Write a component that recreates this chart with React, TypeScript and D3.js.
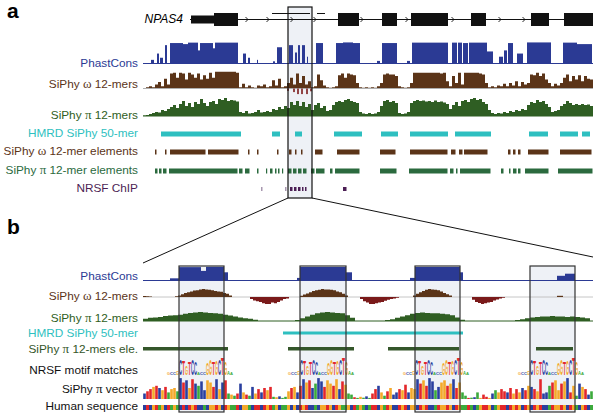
import React from "react";
import * as d3 from "d3";

// ================= DATA =================
// Panel a: NPAS4 locus, positions in units of 100 bp (0-450)
const exonsA: [number, number, string][] = [
  [48, 71, "utr"], [71, 95, "cds"], [195, 216, "cds"], [239, 254, "cds"],
  [268, 305, "cds"], [328, 343, "cds"], [388, 406, "cds"], [421, 450, "cds"],
];
const geneSpanA: [number, number] = [47, 450];
const chevronsA = [104, 125, 149, 172, 219, 264, 310, 357, 381];
const altTranscriptA: [number, number][] = [[129, 167], [174, 182]];

// PhastCons (segments: start, end, score 0-1)
const phastConsA: [number, number, number][] = [
  [8, 11, 0.15], [14, 16, 0.45], [17, 20, 0.25], [22, 24, 0.85],
  [27, 40, 0.95], [40, 45, 0.9], [45, 55, 0.97], [55, 57, 0.6], [57, 70, 0.95], [70, 72, 0.7], [72, 95, 0.97],
  [100, 103, 0.45], [105, 107, 0.25], [114, 115, 0.15], [130, 132, 0.08], [134, 139, 0.75],
  [146, 150, 0.85], [152, 154, 0.5], [155, 157, 0.85], [159, 162, 0.85], [164, 165, 0.3],
  [173, 180, 0.95], [193, 200, 0.95], [200, 210, 0.98], [210, 217, 0.95], [234, 237, 0.1],
  [239, 254, 0.95], [264, 267, 0.1], [269, 305, 0.97], [309, 314, 0.97], [315, 319, 0.97],
  [320, 325, 0.95], [326, 344, 0.97], [344, 350, 0.55], [356, 360, 0.3], [361, 364, 0.6],
  [365, 370, 0.95], [374, 380, 0.45], [384, 408, 0.98], [420, 434, 0.97], [434, 449, 0.9],
];

// SiPhy omega 12-mers, 3-unit bins from 0
const omegaA = [
  0, 0.05, 0.1, 0.05, 0.2, 0.35, 0.1, 0.55, 0.2, 0.85,
  0.9, 0.6, 0.9, 0.85, 0.5, 0.9, 0.8, 0.6, 0.85, 0.5,
  0.75, 0.55, 0.9, 0.6, 0.95, 0.95, 0.95, 0.95, 0.95, 0.95,
  0.95, 0.9, 0.05, 0.25, 0.05, 0.15, 0.05, 0.02, 0.15, 0.1,
  0.2, 0.05, 0.1, 0.45, 0.15, 0.55, 0.05, 0.1, 0.3, 0.6,
  0.2, 0.85, 0.3, 0.7, 0.2, 0.4, 0.05, 0.1, 0.8, 0.45,
  0.15, 0.05, 0.02, 0.05, 0.1, 0.75, 0.85, 0.6, 0.85, 0.8,
  0.75, 0.3, 0.05, 0.02, 0.05, 0.02, 0.05, 0.02, 0.1, 0.3,
  0.8, 0.85, 0.8, 0.8, 0.7, 0.1, 0.05, 0.02, 0.05, 0.3,
  0.9, 0.9, 0.9, 0.9, 0.9, 0.9, 0.9, 0.9, 0.9, 0.85,
  0.9, 0.4, 0.1, 0.7, 0.3, 0.9, 0.2, 0.9, 0.9, 0.9,
  0.9, 0.9, 0.85, 0.8, 0.3, 0.05, 0.1, 0.05, 0.15, 0.1,
  0.25, 0.1, 0.3, 0.15, 0.4, 0.1, 0.35, 0.2, 0.3, 0.8,
  0.75, 0.9, 0.7, 0.85, 0.5, 0.3, 0.1, 0.25, 0.15, 0.3,
  0.6, 0.8, 0.4, 0.7, 0.5, 0.75, 0.4, 0.7, 0.55, 0.5,
];
// negative omega scores (position, depth 0-1)
const omegaNegA: [number, number][] = [[145, 0.3], [151, 0.45], [155, 0.7], [159, 0.7], [164, 0.7], [168, 0.35]];

// SiPhy pi 12-mers, 3-unit bins from 0
const piA = [
  0.02, 0.05, 0.1, 0.15, 0.2, 0.18, 0.3, 0.25, 0.35, 0.45,
  0.55, 0.4, 0.6, 0.75, 0.5, 0.65, 0.45, 0.7, 0.6, 0.85,
  0.65, 0.5, 0.7, 0.75, 0.6, 0.85, 0.8, 0.9, 0.75, 0.8,
  0.78, 0.72, 0.2, 0.15, 0.25, 0.12, 0.15, 0.2, 0.3, 0.18,
  0.2, 0.25, 0.2, 0.35, 0.3, 0.45, 0.35, 0.5, 0.4, 0.7,
  0.55, 0.75, 0.5, 0.7, 0.45, 0.6, 0.3, 0.55, 0.65, 0.4,
  0.5, 0.25, 0.3, 0.55, 0.7, 0.75, 0.7, 0.8, 0.85, 0.75,
  0.7, 0.65, 0.2, 0.12, 0.1, 0.15, 0.1, 0.12, 0.2, 0.5,
  0.75, 0.8, 0.7, 0.75, 0.65, 0.15, 0.1, 0.12, 0.2, 0.65,
  0.75, 0.8, 0.75, 0.78, 0.72, 0.75, 0.7, 0.78, 0.7, 0.72,
  0.68, 0.6, 0.35, 0.55, 0.7, 0.5, 0.75, 0.8, 0.7, 0.85,
  0.9, 0.8, 0.85, 0.7, 0.6, 0.3, 0.15, 0.1, 0.15, 0.12,
  0.2, 0.15, 0.25, 0.2, 0.3, 0.25, 0.35, 0.3, 0.55, 0.7,
  0.65, 0.8, 0.7, 0.75, 0.6, 0.45, 0.2, 0.25, 0.3, 0.5,
  0.6, 0.75, 0.65, 0.55, 0.6, 0.55, 0.6, 0.55, 0.58, 0.5,
];

const hmrdA: [number, number][] = [[18, 98], [129, 137], [152, 159], [191, 219], [238, 255], [267, 305], [312, 348], [386, 405], [417, 435], [439, 447]];
const omegaElA: [number, number][] = [
  [12, 14], [22, 24], [27, 63], [65, 96], [105, 107], [114, 116], [134, 136], [146, 149], [152, 154], [158, 160],
  [172, 180], [194, 217], [237, 253], [267, 305], [308, 313], [316, 320], [321, 345], [365, 368], [370, 373], [375, 378],
  [385, 406], [417, 449],
];
const piElA: [number, number][] = [
  [12, 15], [16, 19], [20, 24], [26, 95], [96, 100], [102, 107], [114, 116], [123, 124], [127, 130], [132, 134],
  [135, 137], [139, 140], [145, 149], [150, 154], [155, 159], [160, 164], [168, 172], [173, 182], [187, 190], [192, 217],
  [237, 254], [266, 305], [307, 311], [313, 315], [317, 348], [358, 361], [366, 368], [370, 374], [375, 378], [382, 406],
  [415, 450],
];
// NRSF ChIP peaks: start, end, strength (0 weak, 1 strong)
const nrsfA: [number, number, number][] = [[118, 120, 0], [142, 144, 0], [147, 150, 1], [151, 154, 1], [155, 158, 1], [159, 161, 1], [162, 164, 1], [200, 204, 1]];
const zoomWindowA: [number, number] = [145, 169];

// Panel b: zoomed window, positions 0-450
const phastConsB: [number, number, number][] = [
  [27, 36, 0.12], [36, 58, 0.92], [58, 63, 0.65], [63, 81, 0.94], [81, 85, 0.55],
  [154, 157, 0.15], [157, 203, 0.93], [203, 209, 0.55],
  [267, 272, 0.15], [272, 317, 0.93], [317, 320, 0.55],
  [414, 422, 0.3], [422, 432, 0.45],
];
const omegaHumpsB = [
  { start: 0, step: 3, values: [0.12, 0.1, 0.06] },
  { start: 32, step: 3, values: [0.1, 0.2, 0.35, 0.5, 0.6, 0.7, 0.8, 0.85, 0.95, 1.0, 0.95, 0.9, 0.85, 0.75, 0.7, 0.65, 0.5, 0.4, 0.2] },
  { start: 107, step: 3, values: [-0.3, -0.5, -0.6, -0.7, -0.9, -1.0, -1.0, -0.8, -0.9, -0.7, -0.5, -0.3, -0.2] },
  { start: 157, step: 3, values: [0.15, 0.3, 0.45, 0.6, 0.75, 0.85, 0.9, 1.0, 0.95, 0.95, 0.9, 0.85, 0.7, 0.6, 0.4, 0.2] },
  { start: 217, step: 3, values: [-0.3, -0.6, -0.8, -1.0, -1.0, -0.9, -0.8, -0.7, -0.55, -0.4, -0.3, -0.2, -0.1] },
  { start: 270, step: 3, values: [0.2, 0.4, 0.6, 0.75, 0.9, 1.0, 0.95, 0.9, 0.85, 0.7, 0.5, 0.35, 0.2] },
  { start: 329, step: 3, values: [-0.4, -0.7, -0.85, -1.0, -0.9, -0.8, -0.7, -0.5, -0.35, -0.2, -0.1] },
  { start: 414, step: 3, values: [0.15, 0.15] },
];
const piHumpsB = [
  { start: 0, step: 5, values: [0.25, 0.35, 0.4, 0.45, 0.55, 0.6, 0.65, 0.7, 0.8, 0.9, 0.95, 1.0, 0.95, 0.9, 0.85, 0.8, 0.7, 0.6, 0.5, 0.4, 0.3, 0.25, 0.15] },
  { start: 152, step: 5, values: [0.1, 0.3, 0.5, 0.7, 0.85, 0.95, 1.0, 0.95, 0.9, 0.85, 0.65, 0.35] },
  { start: 242, step: 5, values: [0.1, 0.2, 0.35, 0.5, 0.65, 0.8, 0.9, 0.95, 0.9, 0.85, 0.85, 0.8, 0.75, 0.65, 0.4, 0.15] },
  { start: 372, step: 5, values: [0.1, 0.2, 0.3, 0.4, 0.45, 0.5, 0.5, 0.55, 0.5, 0.5, 0.45, 0.5, 0.45, 0.4, 0.3] },
];
const hmrdB: [number, number][] = [[140, 320]];
const piElB: [number, number][] = [[0, 85], [145, 211], [245, 316], [393, 430]];
const motifBoxesB: [number, number][] = [[36, 81], [157, 203], [272, 317], [387, 432]];
const motifStartsB = [24, 145, 260, 375];
// NRSF motif logo columns: base, information content (bits)
const motifLetters = ["G", "C", "C", "G", "C", "T", "G", "T", "C", "C", "A", "C", "C", "G", "G", "T", "G", "C", "T", "G", "A", "A"];
const motifBits = [0.35, 0.25, 0.25, 0.45, 1.8, 1.6, 1.0, 1.4, 1.8, 1.5, 0.3, 0.3, 0.3, 1.3, 1.7, 1.5, 1.6, 1.7, 1.9, 1.4, 0.4, 0.35];

// SiPhy pi vector: dominant base and height per column (3-unit columns)
const piVectorBases =
  "CTTGTCGTAG" + "GACTCGTCAC" + "CGGTCGCTAG" + "ATCGTACGTC" + "TGTAGCAAGT" +
  "GCTCGTCACC" + "TGGTGCTGAA" + "TAGACATTCG" + "ATGCCTGTCG" + "GCTGTCCACG" +
  "GTGCTGAATA" + "CAGTTGCAGT" + "TCTGTGCTGC" + "TGTCCATGGT" + "GCTGACGTCA";
const piVectorHeights = [
  0.25, 0.35, 0.45, 0.55, 0.6, 0.5, 0.4, 0.55, 0.3, 0.45,
  0.5, 0.35, 0.95, 0.75, 0.85, 0.5, 0.9, 0.7, 0.6, 0.8,
  0.4, 0.85, 0.75, 0.55, 0.9, 0.45, 0.75, 0.85, 0.25, 0.2,
  0.15, 0.25, 0.7, 0.3, 0.2, 0.15, 0.55, 0.25, 0.45, 0.3,
  0.5, 0.4, 0.55, 0.1, 0.08, 0.12, 0.05, 0.1, 0.35, 0.5,
  0.55, 0.3, 0.6, 0.9, 0.75, 0.85, 0.5, 0.7, 0.95, 0.8,
  0.55, 0.85, 0.7, 0.6, 0.9, 0.45, 0.8, 0.65, 0.25, 0.2,
  0.08, 0.05, 0.1, 0.06, 0.12, 0.05, 0.25, 0.45, 0.6, 0.3,
  0.15, 0.35, 0.5, 0.2, 0.3, 0.45, 0.4, 0.65, 0.3, 0.5,
  0.45, 0.9, 0.7, 0.85, 0.6, 0.95, 0.8, 0.4, 0.55, 0.75,
  0.85, 0.6, 0.7, 0.9, 0.5, 0.75, 0.3, 0.15, 0.05, 0.06,
  0.08, 0.3, 0.05, 0.2, 0.1, 0.05, 0.25, 0.4, 0.3, 0.45,
  0.35, 0.3, 0.5, 0.25, 0.45, 0.3, 0.5, 0.4, 0.6, 0.55,
  0.45, 0.35, 0.9, 0.25, 0.3, 0.6, 0.75, 0.85, 0.4, 0.7,
  0.8, 0.95, 0.3, 0.6, 0.15, 0.7, 0.55, 0.45, 0.2, 0.35,
];
const humanSequence =
  "CTCGTAGCTA" + "GACTCTGTCC" + "ACGGTGCTGA" + "ATCGGACTTC" + "TGTAGCAAGC" +
  "GCTGTCCACG" + "GTGCTGAAGC" + "TAGACATTCG" + "ATGCCTGTCG" + "GCTGTCCATG" +
  "GTGCTGAATA" + "CAGTTGCAGT" + "TCTGTGCTGC" + "TGTCCATGGT" + "GCTGACGTCA";

// ================= STYLE =================
const FONT = "'Liberation Sans', Arial, Helvetica, sans-serif";
const SERIF = "'Liberation Serif', 'Times New Roman', serif";
const COL = {
  phast: "#2b3a94", omega: "#5b3418", omegaNeg: "#7a1a1a", pi: "#2f5e23",
  hmrd: "#2ebfc0", omegaEl: "#5b3418", piEl: "#2b6a3e", piElB: "#34562a", nrsf: "#4c1f55", nrsfLight: "#a898b0",
  box: "#eef1f6", grey: "#9a9a9a",
};
const BASE: Record<string, string> = { A: "#3caa3c", C: "#2a3f9f", G: "#f4a92a", T: "#e3262a" };
const GLYPH_W: Record<string, number> = { A: 7.2, C: 7.2, G: 7.8, T: 6.1 };

const xA = d3.scaleLinear().domain([0, 450]).range([143, 593]);
const xB = d3.scaleLinear().domain([0, 450]).range([143, 593]);

function stepArea(values: number[], start: number, step: number, x: d3.ScaleLinear<number, number>, y: d3.ScaleLinear<number, number>) {
  const pts: [number, number][] = values.map((v, i) => [start + i * step, v]);
  pts.push([Math.min(450, start + values.length * step), values[values.length - 1]]);
  return d3.area<[number, number]>().x((d) => x(d[0])).y0(y(0)).y1((d) => y(d[1])).curve(d3.curveStepAfter)(pts) || "";
}

function Label({ y, color, children, x = 138 }: { y: number; color: string; children: React.ReactNode; x?: number }) {
  return (
    <text x={x} y={y} textAnchor="end" fontFamily={FONT} fontSize={11.8} fill={color}>{children}</text>
  );
}

export default function App() {
  // panel a scales
  const yPhA = d3.scaleLinear().domain([0, 1]).range([63, 42]);
  const yOmA = d3.scaleLinear().domain([-1, 0, 1]).range([96, 88, 71]);
  const yPiA = d3.scaleLinear().domain([0, 1]).range([116, 96]);
  // panel b scales
  const yPhB = d3.scaleLinear().domain([0, 1]).range([280, 266]);
  const yOmB = d3.scaleLinear().domain([-1, 0, 1]).range([304, 297, 289]);
  const yPiB = d3.scaleLinear().domain([0, 1]).range([321, 312]);
  const yLogo = d3.scaleLinear().domain([0, 2]).range([375, 357]);
  const yVec = d3.scaleLinear().domain([0, 1]).range([399, 377]);

  const boxA = zoomWindowA;

  return (
    <div style={{ position: "absolute", left: 0, top: 0 }}>
      <svg width={600} height={416} viewBox="0 0 600 416" style={{ display: "block", background: "#fff" }}>
        {/* ---------- Panel a ---------- */}
        <text x={7} y={18} fontFamily={FONT} fontWeight="bold" fontSize={21}>a</text>
        <rect x={xA(boxA[0])} y={7} width={xA(boxA[1]) - xA(boxA[0])} height={191} fill={COL.box} />

        {/* gene model */}
        <text x={183} y={23} textAnchor="end" fontFamily={FONT} fontStyle="italic" fontSize={12}>NPAS4</text>
        <line x1={xA(geneSpanA[0])} x2={xA(geneSpanA[1])} y1={19.5} y2={19.5} stroke="#111" strokeWidth={1} />
        {altTranscriptA.map(([s, e], i) => (
          <line key={"alt" + i} x1={xA(s)} x2={xA(e)} y1={13.5} y2={13.5} stroke="#111" strokeWidth={1} />
        ))}
        {chevronsA.map((p, i) => (
          <path key={"ch" + i} d={`M${xA(p) - 1.5},17 L${xA(p) + 1},19.5 L${xA(p) - 1.5},22`} fill="none" stroke="#111" strokeWidth={0.9} />
        ))}
        {exonsA.map(([s, e, t], i) => (
          <rect key={"ex" + i} x={xA(s)} width={xA(e) - xA(s)} y={t === "utr" ? 15.5 : 13} height={t === "utr" ? 8 : 13} fill="#111" />
        ))}

        {/* PhastCons */}
        <line x1={xA(0)} x2={xA(450)} y1={63.5} y2={63.5} stroke={COL.phast} strokeWidth={1} />
        {phastConsA.map(([s, e, v], i) => (
          <rect key={"pa" + i} x={xA(s)} width={xA(e) - xA(s)} y={yPhA(v)} height={yPhA(0) - yPhA(v)} fill={COL.phast} />
        ))}
        <Label y={67} color={COL.phast}>PhastCons</Label>

        {/* omega */}
        <line x1={xA(0)} x2={xA(450)} y1={88.5} y2={88.5} stroke={COL.grey} strokeWidth={0.8} />
        <path d={stepArea(omegaA, 0, 3, xA, yOmA)} fill={COL.omega} />
        {omegaNegA.map(([p, v], i) => (
          <rect key={"on" + i} x={xA(p) - 0.8} width={1.6} y={yOmA(0) + 0.5} height={yOmA(-v) - yOmA(0)} fill={COL.omegaNeg} />
        ))}
        <Label y={88} color={COL.omega}>SiPhy <tspan fontFamily={SERIF} fontSize={13}>ω</tspan> 12-mers</Label>

        {/* pi */}
        <path d={stepArea(piA, 0, 3, xA, yPiA)} fill={COL.pi} />
        <line x1={xA(0)} x2={xA(450)} y1={116} y2={116} stroke={COL.pi} strokeWidth={1} />
        <Label y={119} color={COL.pi}>SiPhy <tspan fontFamily={SERIF} fontSize={13}>π</tspan> 12-mers</Label>

        {/* element tracks */}
        {hmrdA.map(([s, e], i) => (
          <rect key={"h" + i} x={xA(s)} width={xA(e) - xA(s)} y={131.5} height={5} fill={COL.hmrd} />
        ))}
        <Label y={137} color={COL.hmrd}>HMRD SiPhy 50-mer</Label>
        {omegaElA.map(([s, e], i) => (
          <rect key={"oe" + i} x={xA(s)} width={Math.max(1.2, xA(e) - xA(s) - 0.5)} y={149.5} height={5} fill={COL.omegaEl} />
        ))}
        <Label y={155} color={COL.omega}>SiPhy <tspan fontFamily={SERIF} fontSize={13}>ω</tspan> 12-mer elements</Label>
        {piElA.map(([s, e], i) => (
          <rect key={"pe" + i} x={xA(s)} width={Math.max(1.2, xA(e) - xA(s) - 0.5)} y={168.5} height={5} fill={COL.piEl} />
        ))}
        <Label y={174} color={COL.piEl}>SiPhy <tspan fontFamily={SERIF} fontSize={13}>π</tspan> 12-mer elements</Label>
        {nrsfA.map(([s, e, v], i) => (
          <rect key={"nr" + i} x={xA(s)} width={xA(e) - xA(s) - 0.5} y={187} height={4} fill={v ? COL.nrsf : COL.nrsfLight} />
        ))}
        <Label y={192} color={COL.nrsf}>NRSF ChIP</Label>

        <rect x={xA(boxA[0])} y={7} width={xA(boxA[1]) - xA(boxA[0])} height={191} fill="none" stroke="#111" strokeWidth={1.2} />

        {/* connectors */}
        <line x1={xA(boxA[0])} y1={198} x2={xB(0)} y2={263} stroke="#111" strokeWidth={1} />
        <line x1={xA(boxA[1])} y1={198} x2={xB(450)} y2={257} stroke="#111" strokeWidth={1} />

        {/* ---------- Panel b ---------- */}
        <text x={7} y={234} fontFamily={FONT} fontWeight="bold" fontSize={21}>b</text>
        {motifBoxesB.map(([s, e], i) => (
          <rect key={"bb" + i} x={xB(s)} y={266} width={xB(e) - xB(s)} height={146} fill={COL.box} />
        ))}

        {/* PhastCons */}
        <line x1={xB(0)} x2={xB(450)} y1={280.5} y2={280.5} stroke={COL.phast} strokeWidth={1} />
        {phastConsB.map(([s, e, v], i) => (
          <rect key={"pb" + i} x={xB(s)} width={xB(e) - xB(s)} y={yPhB(v)} height={yPhB(0) - yPhB(v)} fill={COL.phast} />
        ))}
        <Label y={280} color={COL.phast}>PhastCons</Label>

        {/* omega */}
        <line x1={xB(0)} x2={xB(450)} y1={297} y2={297} stroke="#b8b8b8" strokeWidth={0.8} />
        {omegaHumpsB.map((h, i) => (
          <path key={"ob" + i} d={stepArea(h.values, h.start, h.step, xB, yOmB)} fill={h.values[0] < 0 ? COL.omegaNeg : COL.omega} />
        ))}
        <Label y={300} color={COL.omega}>SiPhy <tspan fontFamily={SERIF} fontSize={13}>ω</tspan> 12-mers</Label>

        {/* pi */}
        {piHumpsB.map((h, i) => (
          <path key={"pib" + i} d={stepArea(h.values, h.start, h.step, xB, yPiB)} fill={COL.pi} />
        ))}
        <line x1={xB(0)} x2={xB(450)} y1={321} y2={321} stroke={COL.pi} strokeWidth={1} />
        <Label y={322} color={COL.pi}>SiPhy <tspan fontFamily={SERIF} fontSize={13}>π</tspan> 12-mers</Label>

        {/* HMRD and pi elements */}
        {hmrdB.map(([s, e], i) => (
          <rect key={"hb" + i} x={xB(s)} width={xB(e) - xB(s)} y={331.5} height={3} fill={COL.hmrd} />
        ))}
        <Label y={337} color={COL.hmrd}>HMRD SiPhy 50-mer</Label>
        {piElB.map(([s, e], i) => (
          <rect key={"peb" + i} x={xB(s)} width={xB(e) - xB(s)} y={347} height={3.5} fill={COL.piElB} />
        ))}
        <Label y={353} color={COL.piElB}>SiPhy <tspan fontFamily={SERIF} fontSize={13}>π</tspan> 12-mers ele.</Label>

        {/* motif logos */}
        {motifStartsB.map((ms, mi) => (
          <g key={"m" + mi}>
            {motifLetters.map((l, ci) => {
              const x0 = xB(ms + ci * 3);
              const hpx = yLogo(0) - yLogo(motifBits[ci]);
              const sx = 3 / GLYPH_W[l];
              const sy = hpx / 7.2;
              return (
                <text key={ci} transform={`translate(${x0},${yLogo(0)}) scale(${sx},${sy})`} fontFamily={FONT} fontWeight="bold" fontSize={10} fill={BASE[l]}>{l}</text>
              );
            })}
          </g>
        ))}
        <Label y={374} color="#111">NRSF motif matches</Label>

        {/* pi vector */}
        {piVectorHeights.map((h, i) => (
          <rect key={"pv" + i} x={xB(i * 3) + 0.2} width={2.6} y={yVec(h)} height={yVec(0) - yVec(h)} fill={BASE[piVectorBases[i]]} />
        ))}
        <Label y={393} color="#111">SiPhy <tspan fontFamily={SERIF} fontSize={13}>π</tspan> vector</Label>

        {/* human sequence */}
        {humanSequence.split("").map((b, i) => (
          <rect key={"hs" + i} x={xB(i * 3)} width={3} y={405} height={5} fill={BASE[b]} />
        ))}
        <Label y={410} color="#111">Human sequence</Label>

        {motifBoxesB.map(([s, e], i) => (
          <rect key={"bo" + i} x={xB(s)} y={266} width={xB(e) - xB(s)} height={146} fill="none" stroke="#333" strokeWidth={1.2} />
        ))}
      </svg>
    </div>
  );
}
